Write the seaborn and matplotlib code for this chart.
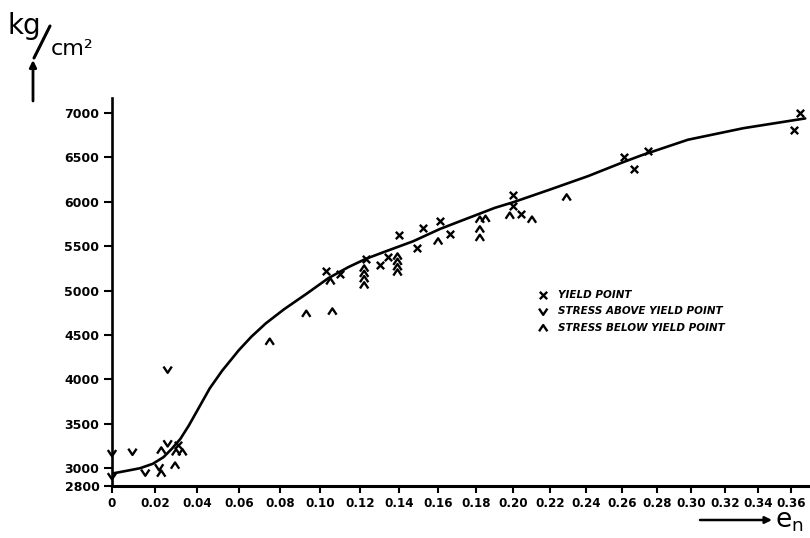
import numpy as np
import matplotlib
matplotlib.use("Agg")
import matplotlib.pyplot as plt
from matplotlib.path import Path
from matplotlib.lines import Line2D
import seaborn as sns

# ---------------- data ----------------
yield_e = [0.031, 0.103, 0.110, 0.123, 0.130, 0.134, 0.140, 0.149, 0.152,
           0.161, 0.166, 0.200, 0.200, 0.204, 0.261, 0.267, 0.275, 0.362, 0.366]
yield_v = [3260, 5225, 5185, 5360, 5290, 5375, 5630, 5480, 5710,
           5780, 5635, 6075, 5950, 5860, 6505, 6375, 6570, 6805, 7005]

above_e = [0.0, 0.0, 0.0095, 0.0155, 0.022, 0.026, 0.026]
above_v = [3170, 2910, 3185, 2950, 3010, 3280, 4110]

below_e = [0.023, 0.023, 0.0295, 0.030, 0.033, 0.075, 0.093, 0.106, 0.105,
           0.122, 0.122, 0.122, 0.122, 0.139, 0.139, 0.139, 0.139,
           0.160, 0.182, 0.185, 0.182, 0.182, 0.198, 0.210, 0.229]
below_v = [3200, 2940, 3030, 3180, 3180, 4425, 4740, 4765, 5105,
           5250, 5190, 5130, 5060, 5385, 5325, 5265, 5205,
           5555, 5800, 5810, 5690, 5595, 5845, 5800, 6050]

curve_e = [0.000, 0.007, 0.013, 0.019, 0.024, 0.028, 0.032, 0.036, 0.041,
           0.046, 0.052, 0.060, 0.066, 0.073, 0.082, 0.0935, 0.104, 0.114,
           0.123, 0.133, 0.147, 0.161, 0.176, 0.190, 0.200, 0.220, 0.241,
           0.261, 0.271, 0.298, 0.331, 0.369]
curve_v = [2940, 2972, 3000, 3050, 3124, 3220, 3330, 3480, 3690,
           3900, 4100, 4330, 4480, 4630, 4790, 4971, 5141, 5265,
           5360, 5443, 5556, 5695, 5819, 5933, 5997, 6140, 6291,
           6450, 6524, 6700, 6830, 6940]

x_ticks = [0, 0.02, 0.04, 0.06, 0.08, 0.10, 0.12, 0.14, 0.16, 0.18,
           0.20, 0.22, 0.24, 0.26, 0.28, 0.30, 0.32, 0.34, 0.36]
x_tick_labels = ["0", "0.02", "0.04", "0.06", "0.08", "0.10", "0.12", "0.14",
                 "0.16", "0.18", "0.20", "0.22", "0.24", "0.26", "0.28",
                 "0.30", "0.32", "0.34", "0.36"]
y_ticks = [2800, 3000, 3500, 4000, 4500, 5000, 5500, 6000, 6500, 7000]
y_tick_labels = ["2800", "3000", "3500", "4000", "4500", "5000", "5500",
                 "6000", "6500", "7000"]
legend_labels = ["YIELD POINT", "STRESS ABOVE YIELD POINT",
                 "STRESS BELOW YIELD POINT"]

# ---------------- style ----------------
sns.set_style("ticks")
plt.rcParams["font.family"] = ["DejaVu Sans"]
plt.rcParams["text.color"] = "black"
plt.rcParams["xtick.color"] = "black"
plt.rcParams["ytick.color"] = "black"
plt.rcParams["axes.edgecolor"] = "black"

W, H = 810, 538
fig = plt.figure(figsize=(W / 100, H / 100), dpi=100)
ax = fig.add_axes([112 / W, 1 - 486 / H, (W - 112) / W, (486 - 98) / H])

# the printed strain axis is slightly compressed toward the right
C = 0.353
def fwd(e):
    e = np.asarray(e, float)
    return e - C * e * e
def inv(y):
    y = np.asarray(y, float)
    disc = np.clip(1 - 4 * C * y, 0, None)
    return (1 - np.sqrt(disc)) / (2 * C)
ax.set_xscale("function", functions=(fwd, inv))

# fitted curve
sns.lineplot(x=curve_e, y=curve_v, ax=ax, color="black", lw=1.9,
             estimator=None, sort=False)

# markers
v_path = Path([(-1, 0.75), (0, -0.75), (1, 0.75)],
              [Path.MOVETO, Path.LINETO, Path.LINETO])
a_path = Path([(-1, -0.75), (0, 0.75), (1, -0.75)],
              [Path.MOVETO, Path.LINETO, Path.LINETO])

sns.scatterplot(x=yield_e, y=yield_v, ax=ax, marker="x", s=28,
                color="black", linewidth=1.7, label=legend_labels[0],
                clip_on=False, zorder=3)
sns.scatterplot(x=above_e, y=above_v, ax=ax, marker=v_path, s=36,
                facecolor="none", edgecolor="black", linewidth=1.7,
                label=legend_labels[1], clip_on=False, zorder=3)
sns.scatterplot(x=below_e, y=below_v, ax=ax, marker=a_path, s=36,
                facecolor="none", edgecolor="black", linewidth=1.7,
                label=legend_labels[2], clip_on=False, zorder=3)

ax.set_xlim(0, 0.372)
ax.set_ylim(2800, 7170)
ax.set_xticks(x_ticks)
ax.set_xticklabels(x_tick_labels, fontsize=8.6, fontweight="bold")
ax.set_yticks(y_ticks)
ax.set_yticklabels(y_tick_labels, fontsize=9, fontweight="bold")
ax.set_xlabel("")
ax.set_ylabel("")
sns.despine(ax=ax)
ax.spines["left"].set_linewidth(1.9)
ax.spines["bottom"].set_linewidth(2.2)
ax.tick_params(axis="y", direction="out", length=6, width=1.5, pad=3)
ax.tick_params(axis="x", direction="out", length=5, width=1.5, pad=3)

ax.legend(loc="upper left", bbox_to_anchor=(538 / W, 1 - 290 / H),
          bbox_transform=fig.transFigure, frameon=False,
          prop=dict(size=7.5, weight="bold", style="italic"),
          handlelength=1.0, handletextpad=0.9, labelspacing=0.62,
          borderpad=0, borderaxespad=0)

# y unit label with arrow
fig.text(7 / W, 1 - 34 / H, "kg", fontsize=20, va="baseline", ha="left",
         color="black")
fig.add_artist(Line2D([50 / W, 34 / W], [1 - 26 / H, 1 - 58 / H],
                      transform=fig.transFigure, color="black", lw=2.2))
fig.text(51 / W, 1 - 55 / H, "cm²", fontsize=16, va="baseline", ha="left",
         color="black")
ax.annotate("", xy=(33 / W, 1 - 60 / H), xytext=(33 / W, 1 - 101 / H),
            xycoords="figure fraction", textcoords="figure fraction",
            arrowprops=dict(arrowstyle="-|>", color="black", lw=2,
                            mutation_scale=10, shrinkA=0, shrinkB=0),
            annotation_clip=False)

# x unit label with arrow
ax.annotate("", xy=(772 / W, 1 - 520 / H), xytext=(700 / W, 1 - 520 / H),
            xycoords="figure fraction", textcoords="figure fraction",
            arrowprops=dict(arrowstyle="-|>", color="black", lw=1.8,
                            mutation_scale=10, shrinkA=0, shrinkB=0),
            annotation_clip=False)
fig.text(775 / W, 1 - 528 / H, r"$\mathrm{e}_{\mathrm{n}}$", fontsize=19,
         va="baseline", ha="left", color="black")

fig.savefig("out.png", dpi=100, facecolor="white")
